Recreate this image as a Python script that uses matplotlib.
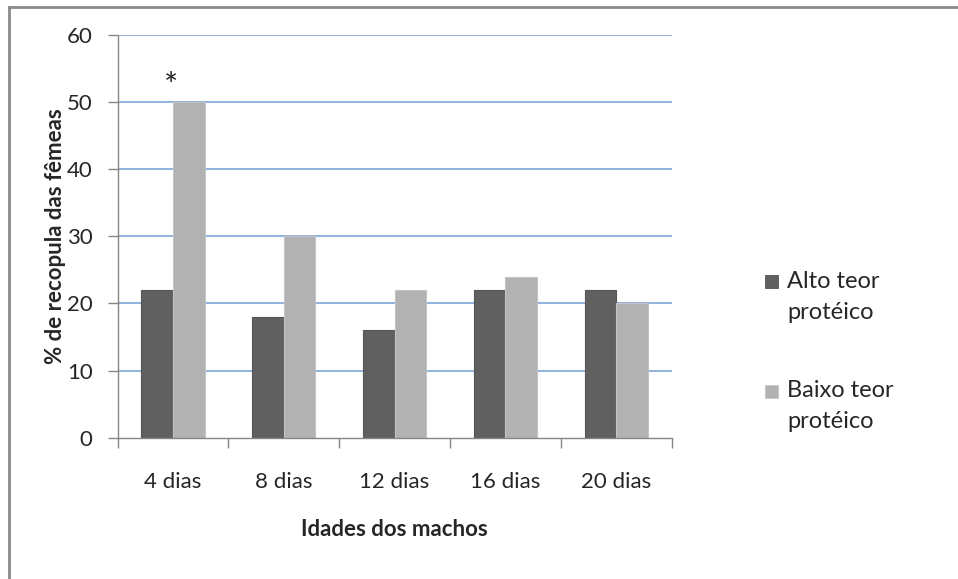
import numpy as np
import matplotlib.pyplot as plt
from matplotlib.lines import Line2D
from matplotlib.patches import Rectangle

plt.rcParams['font.family'] = ['Lato', 'DejaVu Sans']

DPI = 100
W, H = 958, 579

CATEGORIES = ['4 dias', '8 dias', '12 dias', '16 dias', '20 dias']
ALTO = [22, 18, 16, 22, 22]
BAIXO = [50, 30, 22, 24, 20]
SERIES_LABELS = ['Alto teor\nprotéico', 'Baixo teor\nprotéico']
SERIES_COLORS = ['#606060', '#B2B2B2']
EDGE_COLORS = ['#555555', '#C4C4C4']
Y_TICKS = [0, 10, 20, 30, 40, 50, 60]
STAR_CATEGORY = 0
STAR_VALUE = 50

FONT = 16
GRID_COLOR = '#7DA5D9'
AXIS_COLOR = '#868686'
TEXT_COLOR = '#262626'


def px(x, y):
    # pixel coords (origin top-left) -> figure fraction
    return x / W, 1.0 - y / H


fig = plt.figure(figsize=(W / DPI, H / DPI), dpi=DPI)
left, top = px(117.5, 34.7)
right, bottom = px(671.7, 437.7)
ax = fig.add_axes([left, bottom, right - left, top - bottom])
ax_w = (right - left) * W
ax_h = (top - bottom) * H

x = np.arange(len(CATEGORIES))
bw = 0.285
for i, (vals, label) in enumerate(zip([ALTO, BAIXO], SERIES_LABELS)):
    ax.bar(x + (i - 0.5) * bw, vals, width=bw, color=SERIES_COLORS[i],
           edgecolor=EDGE_COLORS[i], linewidth=0.8, label=label, zorder=3)

ax.set_xlim(-0.5, len(CATEGORIES) - 0.5)
ax.set_ylim(0, 60)
ax.set_yticks(Y_TICKS)
ax.set_xticks(np.arange(len(CATEGORIES) + 1) - 0.5, minor=False)
ax.set_xticklabels([''] * (len(CATEGORIES) + 1))
ax.set_xticks(x, minor=True)
ax.set_xticklabels(CATEGORIES, minor=True)

for v in Y_TICKS[1:]:
    ax.axhline(v, color=GRID_COLOR, linewidth=1.2, zorder=1)

for side in ['top', 'right']:
    ax.spines[side].set_visible(False)
for side in ['left', 'bottom']:
    ax.spines[side].set_color(AXIS_COLOR)
    ax.spines[side].set_linewidth(1.0)
    ax.spines[side].set_zorder(4)

ax.tick_params(axis='y', which='major', length=7, width=1.0, color=AXIS_COLOR,
               labelsize=FONT, labelcolor=TEXT_COLOR, pad=11)
ax.tick_params(axis='x', which='major', length=7, width=1.0, color=AXIS_COLOR,
               direction='out')
ax.tick_params(axis='x', which='minor', length=0, labelsize=FONT,
               labelcolor=TEXT_COLOR, pad=25)

ax.set_ylabel('% de recopula das fêmeas', fontsize=FONT, fontweight='bold',
              color=TEXT_COLOR, va='center')
ax.yaxis.set_label_coords((55 - 117.5) / ax_w, 0.5)
ax.set_xlabel('Idades dos machos', fontsize=FONT, fontweight='bold',
              color=TEXT_COLOR, va='center')
ax.xaxis.set_label_coords(0.5, (437.7 - 530) / ax_h)

ax.annotate('*', xy=(STAR_CATEGORY, STAR_VALUE), xytext=(-1, 0),
            textcoords='offset points', ha='center', va='bottom',
            fontsize=24, color=TEXT_COLOR)

# legend drawn by hand so the marker sits beside the first text line
legend_rows = [282, 391]
for label, color, edge, yrow in zip(SERIES_LABELS, SERIES_COLORS, EDGE_COLORS, legend_rows):
    sx, sy = px(765, yrow + 6.5)
    fig.patches.append(Rectangle((sx, sy), 13 / W, 13 / H, transform=fig.transFigure,
                                 facecolor=color, edgecolor=edge, linewidth=0.6))
    tx, ty = px(787, yrow - 11)
    fig.text(tx, ty, label, ha='left', va='top', fontsize=17,
             color=TEXT_COLOR, linespacing=1.58)

# outer chart frame
fx0, fy0 = px(9, 7)
fig.add_artist(Line2D([fx0, fx0], [0, fy0], color='#8A8A8A', linewidth=2.0,
                      transform=fig.transFigure))
fig.add_artist(Line2D([fx0, 1.0], [fy0, fy0], color='#8A8A8A', linewidth=2.0,
                      transform=fig.transFigure))

fig.savefig('out.png', dpi=DPI, facecolor='white')
